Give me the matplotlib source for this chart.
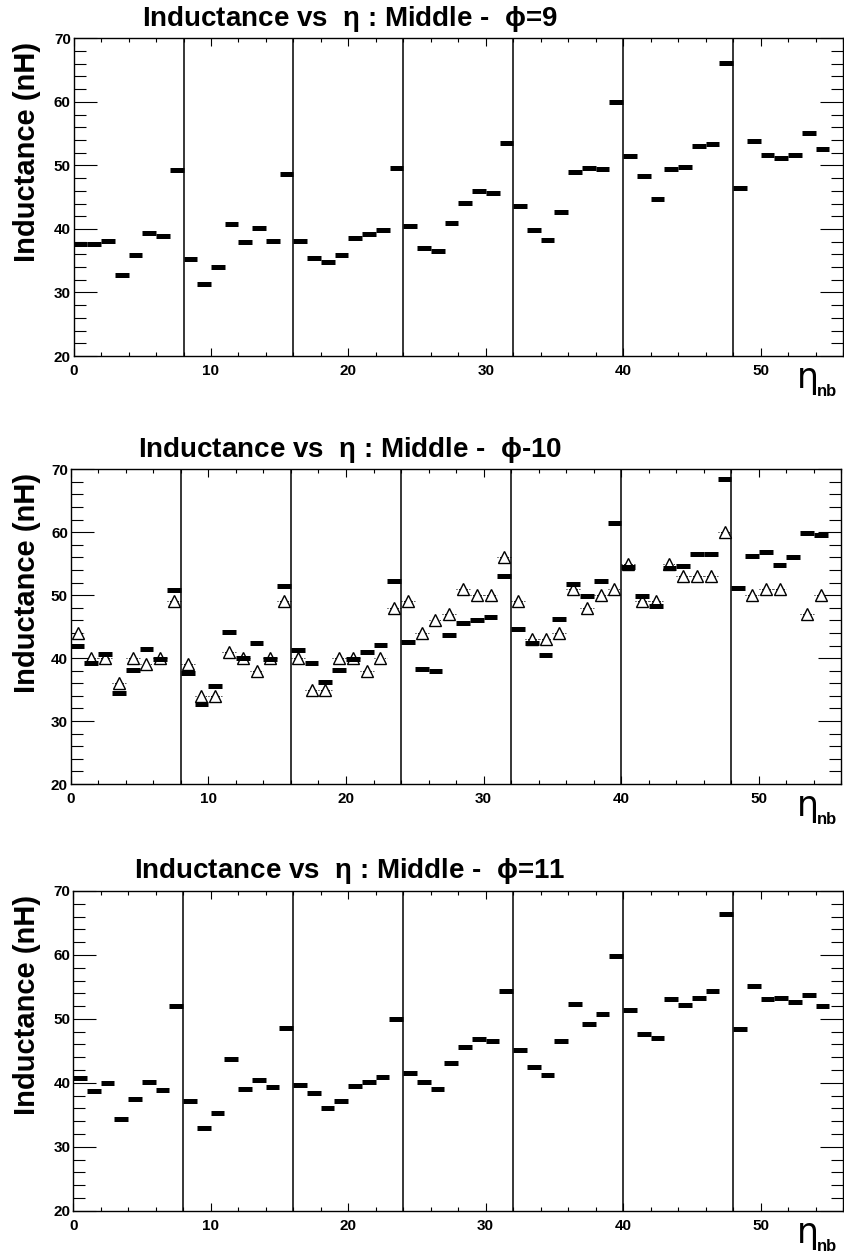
import numpy as np
import matplotlib
matplotlib.use("Agg")
import matplotlib.pyplot as plt
from matplotlib.ticker import MultipleLocator

plt.rcParams['font.family'] = ['Liberation Sans', 'DejaVu Sans']
plt.rcParams['font.weight'] = 'bold'
plt.rcParams['mathtext.fontset'] = 'dejavusans'
plt.rcParams['mathtext.default'] = 'regular'

# eta bins 0..54 (one value per bin)
phi9 = [37.7, 37.6, 38.15, 32.75, 35.85, 39.4, 38.9, 49.2,
        35.2, 31.4, 34.05, 40.8, 37.95, 40.1, 38.1, 48.6,
        38.1, 35.5, 34.85, 35.9, 38.6, 39.2, 39.85, 49.6,
        40.4, 37.05, 36.5, 41.0, 44.1, 45.95, 45.6, 53.5,
        43.6, 39.8, 38.2, 42.7, 49.0, 49.6, 49.5, 59.9,
        51.4, 48.3, 44.7, 49.5, 49.8, 53.0, 53.4, 66.1,
        46.4, 53.8, 51.6, 51.2, 51.6, 55.05, 52.6]

phi10 = [41.9, 39.3, 40.65, 34.4, 38.05, 41.4, 39.9, 50.9,
         37.7, 32.7, 35.5, 44.2, 40.0, 42.4, 39.8, 51.4,
         41.35, 39.2, 36.15, 38.1, 39.9, 41.0, 42.1, 52.2,
         42.6, 38.2, 38.0, 43.6, 45.6, 46.0, 46.5, 53.1,
         44.7, 42.35, 40.5, 46.2, 51.8, 49.8, 52.3, 61.5,
         54.5, 49.8, 48.3, 54.3, 54.6, 56.6, 56.6, 68.5,
         51.1, 56.2, 56.9, 54.75, 56.1, 59.8, 59.6]

# open triangles (second measurement) in the phi-10 panel
phi10_ref = [44, 40, 40, 36, 40, 39, 40, 49,
             39, 34, 34, 41, 40, 38, 40, 49,
             40, 35, 35, 40, 40, 38, 40, 48,
             49, 44, 46, 47, 51, 50, 50, 56,
             49, 43, 43, 44, 51, 48, 50, 51,
             55, 49, 49, 55, 53, 53, 53, 60,
             np.nan, 50, 51, 51, np.nan, 47, 50]

phi11 = [40.8, 38.7, 39.9, 34.4, 37.4, 40.1, 38.9, 52.0,
         37.2, 32.95, 35.3, 43.7, 39.0, 40.4, 39.3, 48.6,
         39.65, 38.45, 36.0, 37.2, 39.5, 40.1, 40.95, 50.0,
         41.6, 40.1, 39.0, 43.05, 45.55, 46.9, 46.5, 54.3,
         45.2, 42.5, 41.2, 46.6, 52.4, 49.2, 50.7, 59.9,
         51.4, 47.7, 47.05, 53.05, 52.1, 53.3, 54.4, 66.4,
         48.4, 55.2, 53.05, 53.3, 52.6, 53.7, 51.95]

boundaries = [8, 16, 24, 32, 40, 48]
titles = ["Inductance vs  $\\eta$ : Middle -  $\\phi$=9",
          "Inductance vs  $\\eta$ : Middle -  $\\phi$-10",
          "Inductance vs  $\\eta$ : Middle -  $\\phi$=11"]

W, H = 845, 1256
fig = plt.figure(figsize=(W / 100, H / 100), dpi=100)

# axes boxes in pixels: left, right, top, bottom
boxes = [(73.6, 843, 38.3, 356),
         (70.7, 841.5, 469.3, 784),
         (73.2, 843, 891, 1210.7)]

bins = np.arange(55)


def make_axes(box):
    l, r, t, b = box
    return fig.add_axes([l / W, 1 - b / H, (r - l) / W, (b - t) / H])


def style(ax, box, i):
    l, r, t, b = box
    ax.set_xlim(0, 56)
    ax.set_ylim(20, 70)
    ax.xaxis.set_major_locator(MultipleLocator(10))
    ax.xaxis.set_minor_locator(MultipleLocator(2))
    ax.yaxis.set_major_locator(MultipleLocator(10))
    ax.yaxis.set_minor_locator(MultipleLocator(2))
    ax.tick_params(which='both', direction='in', top=True, right=True,
                   width=0.8, labelsize=11)
    ax.tick_params(axis='x', which='major', length=5.8, pad=6)
    ax.tick_params(axis='x', which='minor', length=2.9)
    ax.tick_params(axis='y', which='major', length=16.5, pad=2)
    ax.tick_params(axis='y', which='minor', length=8.3)
    for sp in ax.spines.values():
        sp.set_linewidth(1.0)
    for xb in boundaries:
        ax.axvline(xb, color='black', lw=1.1)
    # title, y title, x title
    fig.text(350 / W, 1 - (t - 12.5) / H, titles[i], ha='center', va='baseline',
             fontsize=20, fontweight='bold')
    fig.text(27 / W, 1 - (t + 4) / H, "Inductance (nH)", rotation=90,
             ha='center', va='top', fontsize=21, fontweight='bold')
    fig.text(797 / W, 1 - (b + 32) / H, "η", ha='left', va='baseline',
             fontsize=25, family='DejaVu Sans', fontweight='normal')
    fig.text(817 / W, 1 - (b + 40) / H, "nb", ha='left', va='baseline',
             fontsize=12, fontweight='bold')


series = [phi9, phi10, phi11]
for i, box in enumerate(boxes):
    ax = make_axes(box)
    if i == 1:
        ax.hlines(phi10_ref, bins, bins + 1, colors='black', lw=0.7,
                  linestyles=':', zorder=2)
        ax.plot(bins + 0.5, phi10_ref, '^', ls='none', ms=8, mfc='white',
                mec='black', mew=1.0, zorder=3)
    ax.hlines(series[i], bins, bins + 1, colors='black', lw=3.6,
              capstyle='butt', zorder=4)
    style(ax, box, i)

fig.savefig("out.png", dpi=100)
